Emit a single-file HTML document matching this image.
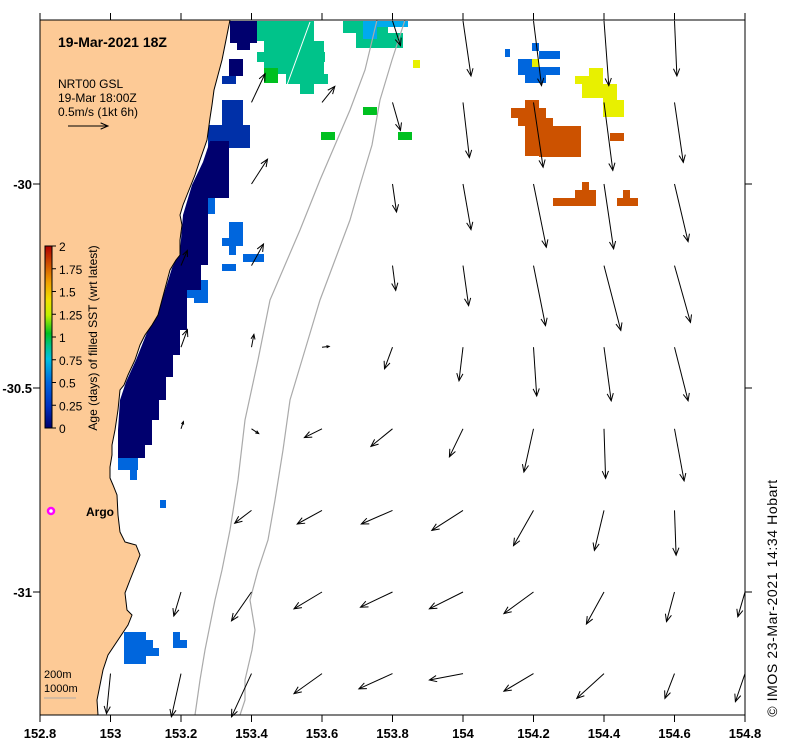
<!DOCTYPE html>
<html><head><meta charset="utf-8"><style>
html,body{margin:0;padding:0;background:#fff;}
svg{display:block;font-family:"Liberation Sans",sans-serif;}
</style></head><body>
<svg id="chart" width="789" height="750" viewBox="0 0 789 750">
<rect x="0" y="0" width="789" height="750" fill="#fff"/>
<g id="plot"></g>
</svg>
<script>
const xTicks=[152.8,153,153.2,153.4,153.6,153.8,154,154.2,154.4,154.6,154.8];
const xTickLabels=["152.8","153","153.2","153.4","153.6","153.8","154","154.2","154.4","154.6","154.8"];
const yTicks=[-30,-30.5,-31];
const yTickLabels=["-30","-30.5","-31"];
const cbTicks=[0,0.25,0.5,0.75,1,1.25,1.5,1.75,2];
const cbLabels=["0","0.25","0.5","0.75","1","1.25","1.5","1.75","2"];
// current vectors: lon, lat, u (m/s east), v (m/s north)
const vLon=[153.8,154,154.2,154.4,154.6, 153.4,153.6,153.8,154,154.2,154.4,154.6, 153.4,153.8,154,154.2,154.4,154.6, 153.2,153.4,153.8,154,154.2,154.4,154.6, 153.2,153.4,153.6,153.8,154,154.2,154.4,154.6, 153.2,153.4,153.6,153.8,154,154.2,154.4,154.6, 153.4,153.6,153.8,154,154.2,154.4,154.6, 153.2,153.4,153.6,153.8,154,154.2,154.4,154.6,154.8, 153,153.2,153.4,153.6,153.8,154,154.2,154.4,154.6,154.8];
const vLat=[-29.6,-29.6,-29.6,-29.6,-29.6, -29.8,-29.8,-29.8,-29.8,-29.8,-29.8,-29.8, -30,-30,-30,-30,-30,-30, -30.2,-30.2,-30.2,-30.2,-30.2,-30.2,-30.2, -30.4,-30.4,-30.4,-30.4,-30.4,-30.4,-30.4,-30.4, -30.6,-30.6,-30.6,-30.6,-30.6,-30.6,-30.6,-30.6, -30.8,-30.8,-30.8,-30.8,-30.8,-30.8,-30.8, -31,-31,-31,-31,-31,-31,-31,-31,-31, -31.2,-31.2,-31.2,-31.2,-31.2,-31.2,-31.2,-31.2,-31.2,-31.2];
const vU=[0.10,0.10,0.10,0.06,0.03, 0.17,0.16,0.10,0.08,0.12,0.11,0.11, 0.20,0.05,0.10,0.16,0.12,0.17, 0.08,0.15,0.04,0.07,0.15,0.21,0.20, 0.08,0.03,0.09,-0.10,-0.05,0.04,0.09,0.17, 0.03,0.09,-0.22,-0.27,-0.17,-0.12,0.02,0.12, -0.21,-0.31,-0.39,-0.39,-0.25,-0.12,0.02, -0.09,-0.25,-0.35,-0.40,-0.42,-0.37,-0.22,-0.10,-0.09, -0.05,-0.12,-0.25,-0.35,-0.42,-0.42,-0.37,-0.34,-0.12,-0.12];
const vV=[-0.31,-0.69,-0.81,-0.81,-0.69, 0.36,0.20,-0.35,-0.69,-0.81,-0.85,-0.75, 0.31,-0.35,-0.57,-0.79,-0.81,-0.72, 0.19,0.27,-0.31,-0.50,-0.75,-0.81,-0.71, 0.22,0.16,0.01,-0.27,-0.42,-0.61,-0.67,-0.67, 0.09,-0.06,-0.11,-0.22,-0.35,-0.54,-0.62,-0.65, -0.16,-0.17,-0.17,-0.25,-0.44,-0.50,-0.56, -0.30,-0.36,-0.21,-0.19,-0.21,-0.27,-0.40,-0.37,-0.31, -0.50,-0.54,-0.54,-0.25,-0.19,-0.08,-0.22,-0.31,-0.31,-0.35];
</script>
<script>
const NS="http://www.w3.org/2000/svg";
const X0=40,X1=745,Y0=20,Y1=715;
function xs(lon){return X0+(lon-152.8)/2.0*(X1-X0);}
function ys(lat){return 184+(-30-lat)/0.5*204;}
function mk(tag,attrs,parent){const e=document.createElementNS(NS,tag);for(const k in attrs)e.setAttribute(k,attrs[k]);(parent||document.getElementById('plot')).appendChild(e);return e;}
const g=document.getElementById('plot');

const cells=[
 ["#00006e",[[230,21,27,22],[237,43,13,7],[229,59,14,17]]],
 ["#0030a8",[[222,76,14,8],[222,100,21,25],[208,125,42,23]]],
 ["#0066dd",[[208,198,7,16],[229,222,14,16],[222,238,21,8],[229,246,7,9],[243,254,21,8],[222,264,14,7],[194,280,14,23],[187,290,14,8],[124,432,14,15],[118,450,20,20],[130,468,7,12],[160,500,6,8],[124,632,22,32],[146,640,7,16],[153,648,6,8],[173,632,7,16],[173,640,14,8],[505,49,5,8],[532,43,7,8],[539,51,21,8],[518,59,21,8],[518,67,42,8],[525,75,21,8]]],
 ["#00c38a",[[257,21,57,20],[264,41,60,12],[257,52,68,10],[264,62,60,12],[286,74,42,10],[300,84,14,10],[343,21,45,12],[356,33,47,15]]],
 ["#00aaee",[[363,21,45,6],[363,21,14,18]]],
 ["#00c020",[[264,68,14,15],[363,107,14,8],[321,132,14,8],[398,132,14,8]]],
 ["#e8f000",[[413,60,7,8],[532,59,7,8],[589,68,14,8],[575,76,28,8],[582,84,35,8],[582,92,21,6],[603,92,14,8],[603,100,21,17]]],
 ["#cc5200",[[525,100,14,8],[511,108,35,10],[518,118,35,8],[525,126,56,22],[539,148,42,9],[525,148,14,8],[610,133,14,8],[582,182,7,8],[575,190,21,8],[553,198,43,8],[623,190,7,8],[617,198,21,8]]]
];
cells.forEach(([col,rs],i)=>rs.forEach(r=>{
 const e=mk('rect',{x:r[0],y:r[1],width:r[2],height:r[3],fill:col});
 
 
}));
const strip=mk('polygon',{fill:"#00006e",points:"210,141 229,141 229,198 208,198 208,265 201,265 201,290 187,290 187,330 180,330 180,355 173,355 173,377 166,377 166,400 159,400 159,420 152,420 152,445 145,445 145,458 118,458 118,430 120,400 126,382 136,360 146,335 162,300 172,268 180,252 183,215 192,185 203,162"});


const wl=mk('line',{x1:310,y1:22,x2:287,y2:85,stroke:"#fff","stroke-width":1});

const b1=mk('polyline',{points:"377,20 365,70 350,110 338,138 320,180 300,230 285,265 270,300 258,360 245,420 238,480 230,530 222,570 215,600 205,650 200,680 195,715",fill:"none",stroke:"#aaa","stroke-width":1.2});


const b2=mk('polyline',{points:"405,20 392,60 380,100 372,145 360,185 350,220 335,260 320,300 305,350 290,400 283,450 275,500 268,540 258,570 250,600 255,630 252,650 245,680 245,700 240,715",fill:"none",stroke:"#aaa","stroke-width":1.2});



const land=mk('polygon',{fill:"#fdca96",stroke:"#000","stroke-width":1,points:"40,20 230,20 228,30 225,45 222,60 218,75 214,90 212,105 210,118 207,140 200,160 195,175 187,195 183,205 180,215 182,225 180,240 180,255 176,260 170,270 166,285 162,300 158,315 152,325 145,335 140,345 135,360 128,375 124,385 120,390 118,410 115,430 112,445 112,455 110,467 110,478 113,485 117,495 118,515 120,532 125,542 136,545 140,555 136,565 130,580 125,593 127,610 132,615 128,625 118,640 108,655 103,670 100,685 97,700 98,715 40,715"});



const SC=80;
function arrow(x1,y1,x2,y2,name){
 const gg=mk('g',{stroke:"#000","stroke-width":1,fill:"none"});
 
 
 mk('line',{x1:x1,y1:y1,x2:x2,y2:y2},gg);
 const a=Math.atan2(y2-y1,x2-x1),L=Math.min(8,Math.hypot(x2-x1,y2-y1)*0.4);
 mk('polyline',{points:`${x2-L*Math.cos(a-0.4)},${y2-L*Math.sin(a-0.4)} ${x2},${y2} ${x2-L*Math.cos(a+0.4)},${y2-L*Math.sin(a+0.4)}`},gg);
}
for(let i=0;i<vLon.length;i++){
 const x=xs(vLon[i]),y=ys(vLat[i]);
 arrow(x,y,x+vU[i]*SC,y-vV[i]*SC,'current-vector');
}

const fr=mk('rect',{x:X0,y:Y0,width:X1-X0,height:Y1-Y0,fill:"none",stroke:"#000","stroke-width":1});


xTicks.forEach((v,i)=>{
 const x=xs(v);
 mk('line',{x1:x,y1:Y0,x2:x,y2:Y0-7,stroke:"#000"});
 mk('line',{x1:x,y1:Y1,x2:x,y2:Y1+7,stroke:"#000"});
 const t=mk('text',{x:x,y:738,"text-anchor":"middle","font-size":13,"font-weight":"bold"});
 t.textContent=xTickLabels[i];
 
 
});
yTicks.forEach((v,i)=>{
 const y=ys(v);
 mk('line',{x1:X0,y1:y,x2:X0-7,y2:y,stroke:"#000"});
 mk('line',{x1:X1,y1:y,x2:X1+7,y2:y,stroke:"#000"});
 const t=mk('text',{x:32,y:y+5,"text-anchor":"end","font-size":13,"font-weight":"bold"});
 t.textContent=yTickLabels[i];
 
 
});

function txt(x,y,s,attrs,name){const t=mk('text',Object.assign({x:x,y:y,"font-size":13},attrs||{}));t.textContent=s;return t;}
txt(58,47,"19-Mar-2021 18Z",{"font-weight":"bold","font-size":14},'map-title');
txt(58,88,"NRT00 GSL",{"font-size":12},'product-label');
txt(58,102,"19-Mar 18:00Z",{"font-size":12},'vector-time');
txt(58,116,"0.5m/s (1kt 6h)",{"font-size":12},'vector-scale-label');
arrow(68,126,108,126,'vector-scale-arrow');
const argo=mk('circle',{cx:51,cy:511,r:3,fill:"#fff",stroke:"#f0f","stroke-width":2.5});


txt(86,516,"Argo",{"font-weight":"bold","font-size":12},'argo-label');
txt(44,678,"200m",{"font-size":11},'isobath-legend-200m');
txt(44,692,"1000m",{"font-size":11},'isobath-legend-1000m');
mk('line',{x1:44,y1:698,x2:76,y2:698,stroke:"#aaa"});
txt(0,0,"© IMOS 23-Mar-2021 14:34 Hobart",{"font-size":14,"letter-spacing":"0.6","text-anchor":"middle",transform:"translate(777,598) rotate(-90)"},'credit-label');

const defs=mk('defs',{});
const lg=mk('linearGradient',{id:"cb",x1:0,y1:1,x2:0,y2:0},defs);
[["0","#00006e"],["0.12","#0030c0"],["0.25","#0066dd"],["0.38","#00c0e0"],["0.45","#00c38a"],["0.52","#00c020"],["0.62","#c0f000"],["0.7","#f0e000"],["0.8","#f0a000"],["0.9","#d05000"],["1","#b00000"]].forEach(s=>mk('stop',{offset:s[0],"stop-color":s[1]},lg));
const cb=mk('rect',{x:45,y:246,width:7,height:182,fill:"url(#cb)",stroke:"#000"});


cbTicks.forEach((v,i)=>{
 const y=428-v/2*182;
 mk('line',{x1:52,y1:y,x2:56,y2:y,stroke:"#000"});
 txt(59,y+5,cbLabels[i],{"font-size":12},'colorbar-tick-label');
});
txt(0,0,"Age (days) of filled SST (wrt latest)",{"font-size":12,"text-anchor":"middle",transform:"translate(97,338) rotate(-90)"},'colorbar-title');
</script>
</body></html>
